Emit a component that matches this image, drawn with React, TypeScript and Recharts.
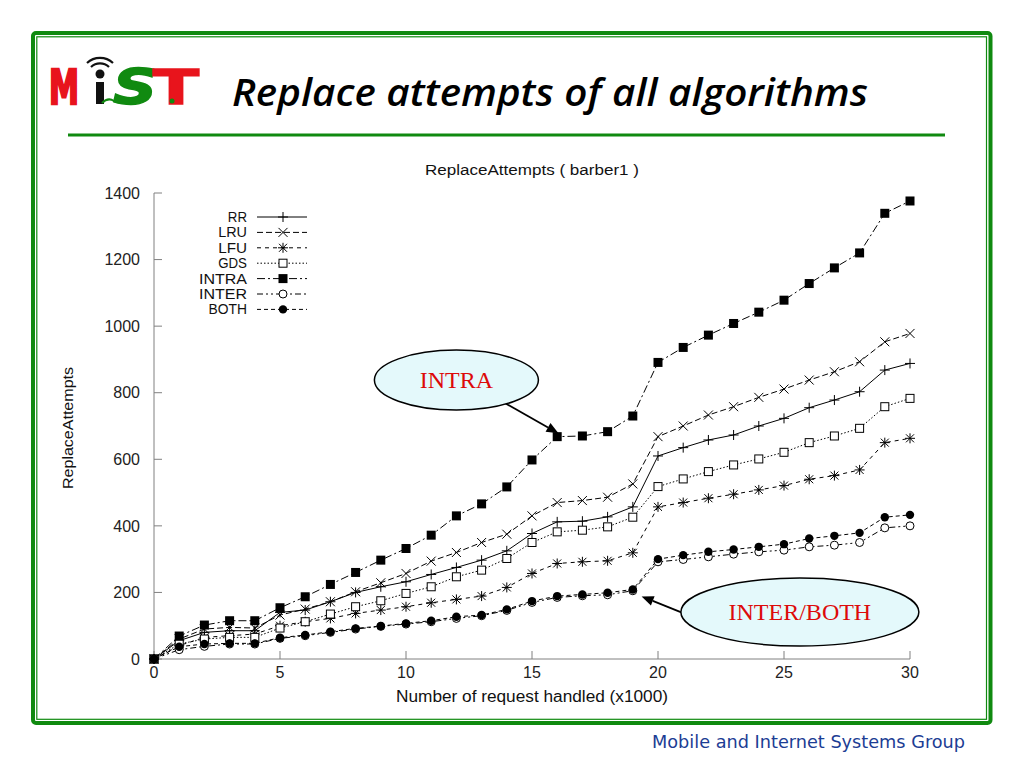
import React from 'react';
import { LineChart, Line, XAxis, YAxis, Legend, ReferenceDot, ReferenceLine } from 'recharts';

// requests handled (x1000)
const requests = [0, 1, 2, 3, 4, 5, 6, 7, 8, 9, 10, 11, 12, 13, 14, 15, 16, 17, 18, 19, 20, 21, 22, 23, 24, 25, 26, 27, 28, 29, 30];

const rr = [0, 55, 80, 85, 85, 140, 147, 172, 200, 217, 232, 254, 275, 297, 325, 377, 412, 414, 427, 457, 610, 635, 658, 673, 700, 723, 755, 778, 803, 868, 888];
const lru = [0, 60, 90, 95, 93, 132, 150, 172, 202, 229, 257, 294, 320, 350, 375, 430, 470, 476, 486, 526, 668, 700, 733, 758, 786, 811, 838, 863, 893, 953, 978];
const lfu = [0, 40, 65, 70, 75, 100, 112, 122, 137, 147, 157, 169, 179, 189, 215, 257, 287, 292, 295, 319, 457, 470, 483, 495, 508, 521, 540, 551, 568, 650, 663];
const gds = [0, 45, 60, 65, 65, 93, 112, 135, 157, 175, 197, 217, 247, 267, 302, 350, 382, 387, 397, 426, 518, 541, 563, 583, 601, 621, 650, 670, 693, 758, 783];
const intra = [0, 69, 102, 115, 115, 154, 187, 224, 260, 297, 332, 372, 430, 466, 517, 598, 668, 670, 683, 730, 891, 936, 973, 1008, 1042, 1078, 1128, 1175, 1220, 1339, 1376];
const inter = [0, 28, 38, 45, 45, 62, 70, 80, 90, 98, 105, 112, 122, 130, 146, 170, 185, 190, 193, 205, 292, 299, 307, 315, 322, 327, 337, 342, 350, 394, 400];
const both = [0, 37, 45, 47, 47, 64, 72, 82, 92, 99, 107, 115, 127, 132, 149, 174, 189, 194, 199, 209, 300, 312, 322, 329, 337, 345, 362, 370, 379, 426, 433];

const xTicks = [0, 5, 10, 15, 20, 25, 30];
const yTicks = [0, 200, 400, 600, 800, 1000, 1200, 1400];

type MarkerType = 'plus' | 'cross' | 'star' | 'openSquare' | 'square' | 'openCircle' | 'circle';

const SERIES: { key: string; values: number[]; dash?: string; marker: MarkerType }[] = [
  { key: 'RR', values: rr, marker: 'plus' },
  { key: 'LRU', values: lru, dash: '6 3', marker: 'cross' },
  { key: 'LFU', values: lfu, dash: '4 4', marker: 'star' },
  { key: 'GDS', values: gds, dash: '1.5 2', marker: 'openSquare' },
  { key: 'INTRA', values: intra, dash: '8 3 2 3', marker: 'square' },
  { key: 'INTER', values: inter, dash: '6 3 2 3 2 3', marker: 'openCircle' },
  { key: 'BOTH', values: both, dash: '4 3', marker: 'circle' },
];

const chartData = requests.map((x, i) => {
  const row: Record<string, number> = { x };
  SERIES.forEach((s) => { row[s.key] = s.values[i]; });
  return row;
});

const GREEN = '#108a10';
const FONT = '"Liberation Sans", Arial, sans-serif';

const Marker = ({ type, cx, cy }: { type: MarkerType; cx?: number; cy?: number }) => {
  if (cx == null || cy == null || isNaN(cx) || isNaN(cy)) return null;
  const k = '#000';
  switch (type) {
    case 'plus':
      return <path d={`M${cx - 5},${cy}h10M${cx},${cy - 5}v10`} stroke={k} strokeWidth={1} fill="none" />;
    case 'cross':
      return <path d={`M${cx - 4.5},${cy - 4.5}l9,9M${cx - 4.5},${cy + 4.5}l9,-9`} stroke={k} strokeWidth={1} fill="none" />;
    case 'star':
      return <path d={`M${cx - 5},${cy}h10M${cx},${cy - 5}v10M${cx - 4},${cy - 4}l8,8M${cx - 4},${cy + 4}l8,-8`} stroke={k} strokeWidth={1} fill="none" />;
    case 'openSquare':
      return <rect x={cx - 4} y={cy - 4} width={8} height={8} stroke={k} strokeWidth={1} fill="#fff" />;
    case 'square':
      return <rect x={cx - 4.5} y={cy - 4.5} width={9} height={9} fill={k} />;
    case 'openCircle':
      return <circle cx={cx} cy={cy} r={4} stroke={k} strokeWidth={1} fill="#fff" />;
    case 'circle':
      return <circle cx={cx} cy={cy} r={4.2} fill={k} />;
  }
  return null;
};

const LegendBox = () => (
  <svg width={170} height={112} style={{ display: 'block' }}>
    {SERIES.map((s, i) => {
      const y = 12 + i * 15.4;
      return (
        <g key={s.key}>
          <text x={97} y={y + 5} textAnchor="end" fontFamily={FONT} fontSize={14} fill="#111" textLength={s.key.length * 9.6} lengthAdjust="spacingAndGlyphs">{s.key}</text>
          <line x1={107} x2={157} y1={y} y2={y} stroke="#000" strokeWidth={1} strokeDasharray={s.dash} />
          <Marker type={s.marker} cx={133} cy={y} />
        </g>
      );
    })}
  </svg>
);

const Bubble = (label: string, rx: number, ry: number) => (p: any) => (
  <g>
    <ellipse cx={p.cx} cy={p.cy} rx={rx} ry={ry} fill="#e4f9fb" stroke="#000" strokeWidth={1.5} />
    <text x={p.cx} y={p.cy + 8} textAnchor="middle" fontFamily='"Liberation Serif", "Times New Roman", serif' fontSize={24} fill="#dd0a0a">{label}</text>
  </g>
);

const Arrow = (p: any) => {
  const { x1, y1, x2, y2 } = p;
  if ([x1, y1, x2, y2].some((v) => v == null || isNaN(v))) return null;
  const a = Math.atan2(y2 - y1, x2 - x1);
  const len = 12;
  const w = 5;
  const bx = x2 - len * Math.cos(a);
  const by = y2 - len * Math.sin(a);
  const px = -Math.sin(a) * w;
  const py = Math.cos(a) * w;
  return (
    <g>
      <line x1={x1} y1={y1} x2={bx} y2={by} stroke="#000" strokeWidth={1.8} />
      <polygon points={`${x2},${y2} ${bx + px},${by + py} ${bx - px},${by - py}`} fill="#000" />
    </g>
  );
};

const Slide = () => (
  <svg width={1024} height={768} style={{ position: 'absolute', left: 0, top: 0 }}>
    <rect x={33} y={33} width={957.5} height={690} rx={3} fill="#fff" stroke={GREEN} strokeWidth={4} />
    <rect x={36.8} y={36.8} width={949.7} height={682.5} fill="none" stroke={GREEN} strokeWidth={1.2} />
    <line x1={68} x2={945} y1={135} y2={135} stroke={GREEN} strokeWidth={3} />

    {/* logo */}
    <text x={49} y={104} fontFamily='"DejaVu Sans", sans-serif' fontWeight="bold" fontSize={48} fill="#e8141c" stroke="#e8141c" strokeWidth={2.5} textLength={30} lengthAdjust="spacingAndGlyphs">M</text>
    <path d="M91,67 A13,13 0 0 1 109,67" stroke="#111" strokeWidth={2.2} fill="none" />
    <path d="M87,63 A19,19 0 0 1 113,63" stroke="#111" strokeWidth={2.2} fill="none" />
    <circle cx={100} cy={74} r={4.5} fill="#111" />
    <rect x={96} y={82} width={8} height={22} fill="#111" />
    <path d="M102,103 q6,-6 12,-2 q5,3 10,-4" stroke={GREEN} strokeWidth={2} fill="none" />
    <text x={113} y={104} fontFamily='"DejaVu Sans", sans-serif' fontWeight="bold" fontStyle="italic" fontSize={50} fill={GREEN} stroke={GREEN} strokeWidth={1.5} textLength={44} lengthAdjust="spacingAndGlyphs">S</text>
    <text x={153} y={104} fontFamily='"DejaVu Sans", sans-serif' fontWeight="bold" fontSize={48} fill="#e8141c" stroke="#e8141c" strokeWidth={1.5} textLength={46} lengthAdjust="spacingAndGlyphs">T</text>
    <circle cx={172} cy={101} r={2.5} fill={GREEN} />

    <text x={232} y={106} fontFamily='"Open Sans", "DejaVu Sans", sans-serif' fontStyle="italic" fontWeight={600} fontSize={37} fill="#000" textLength={636} lengthAdjust="spacingAndGlyphs">Replace attempts of all algorithms</text>

    <text x={532} y={175} textAnchor="middle" fontFamily={FONT} fontSize={15.5} fill="#111" textLength={214} lengthAdjust="spacingAndGlyphs">ReplaceAttempts ( barber1 )</text>

    <text x={652} y={748} fontFamily='"DejaVu Sans Condensed", "Open Sans", sans-serif' fontSize={17} fill="#1c3d94" textLength={313} lengthAdjust="spacingAndGlyphs">Mobile and Internet Systems Group</text>
  </svg>
);

export default function App() {
  return (
    <div style={{ position: 'absolute', left: 0, top: 0, width: 1024, height: 768, background: '#fff' }}>
      <Slide />
      <div style={{ position: 'absolute', left: 0, top: 0 }}>
        <LineChart width={1024} height={768} data={chartData} margin={{ top: 193, right: 114, bottom: 79, left: 94 }}>
          <XAxis
            dataKey="x"
            type="number"
            domain={[0, 30]}
            ticks={xTicks}
            interval={0}
            height={30}
            tickSize={-8}
            tickMargin={16}
            axisLine={{ stroke: '#808080' }}
            tickLine={{ stroke: '#808080' }}
            tick={{ fill: '#222', fontSize: 16, fontFamily: FONT }}
            label={{
              content: (p: any) => (
                <text x={p.viewBox.x + p.viewBox.width / 2} y={p.viewBox.y + 43} textAnchor="middle" fontFamily={FONT} fontSize={16} fill="#111" textLength={272} lengthAdjust="spacingAndGlyphs">
                  Number of request handled (x1000)
                </text>
              ),
            }}
          />
          <YAxis
            type="number"
            domain={[0, 1400]}
            ticks={yTicks}
            interval={0}
            width={60}
            tickSize={-8}
            tickMargin={22}
            axisLine={{ stroke: '#808080' }}
            tickLine={{ stroke: '#808080' }}
            tick={{ fill: '#222', fontSize: 16, fontFamily: FONT }}
            label={{
              content: (p: any) => {
                const cx = p.viewBox.x - 21;
                const cy = p.viewBox.y + p.viewBox.height / 2 + 2;
                return (
                  <text x={cx} y={cy} transform={`rotate(-90 ${cx} ${cy})`} textAnchor="middle" fontFamily={FONT} fontSize={15.5} fill="#111" textLength={122} lengthAdjust="spacingAndGlyphs">
                    ReplaceAttempts
                  </text>
                );
              },
            }}
          />
          <Legend
            layout="vertical"
            align="center"
            verticalAlign="middle"
            wrapperStyle={{ left: 150, top: 205, width: 170, height: 112 }}
            content={() => <LegendBox />}
          />
          {SERIES.map((s) => (
            <Line
              key={s.key}
              dataKey={s.key}
              stroke="#000"
              strokeWidth={1}
              strokeDasharray={s.dash}
              dot={(p: any) => <Marker key={`${s.key}-${p.index}`} type={s.marker} cx={p.cx} cy={p.cy} />}
              activeDot={false}
              isAnimationActive={false}
            />
          ))}
          <ReferenceLine segment={[{ x: 13.9, y: 770 }, { x: 16.05, y: 678 }]} shape={Arrow} />
          <ReferenceLine segment={[{ x: 21.0, y: 138 }, { x: 19.35, y: 188 }]} shape={Arrow} />
          <ReferenceDot x={12} y={838} r={0} shape={Bubble('INTRA', 82, 30)} />
          <ReferenceDot x={25.63} y={141} r={0} shape={Bubble('INTER/BOTH', 119, 34)} />
        </LineChart>
      </div>
    </div>
  );
}
